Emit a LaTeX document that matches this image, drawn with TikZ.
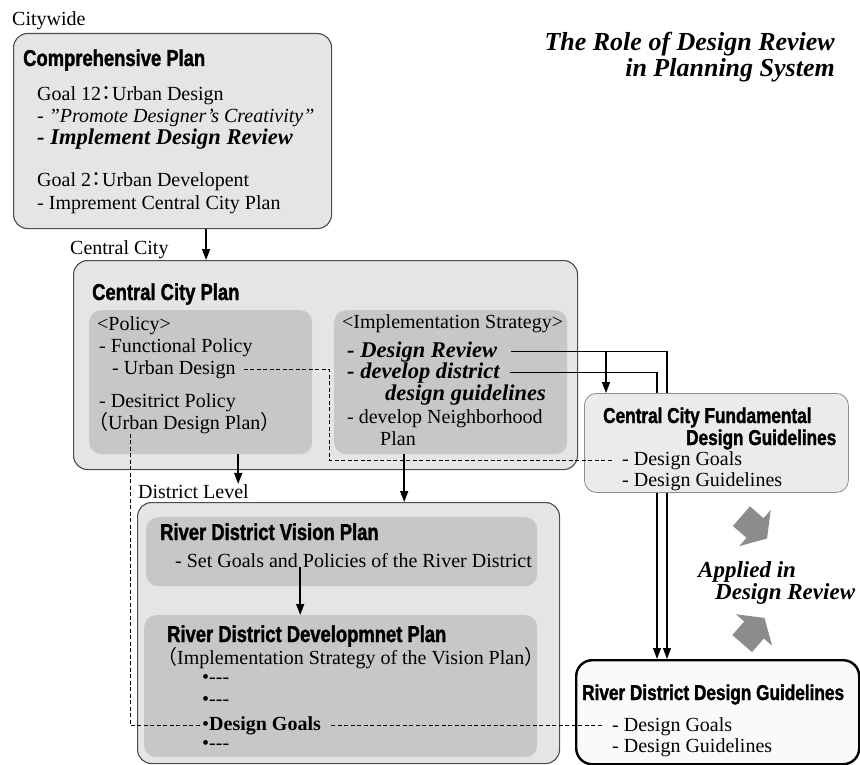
\documentclass[tikz,border=0pt]{standalone}
\usepackage{fontspec}
\setmainfont{Liberation Serif}
\newfontfamily\headfont[FakeStretch=0.8,FakeBold=1.5]{Liberation Sans}
\newfontfamily\cjk{Noto Sans CJK JP}
\newcommand\fwcolon{\kern-4.5pt{\cjk ：}\kern-4.5pt}
\usetikzlibrary{arrows.meta}
\pgfdeclarelayer{front}
\pgfsetlayers{main,front}

\begin{document}
\begin{tikzpicture}
[x=1pt,y=-1pt,
  outerBox/.style={draw=black!70,fill=black!10,line width=1.1pt,rounded corners=14pt,anchor=north west,inner sep=0pt},
  innerBox/.style={fill=black!22,rounded corners=12pt,anchor=north west,inner sep=0pt},
  lightBox/.style={draw=black!45,fill=black!8,line width=0.8pt,rounded corners=12pt,anchor=north west,inner sep=0pt},
  riverBox/.style={draw=black,fill=black!2,line width=2.4pt,rounded corners=16pt,anchor=north west,inner sep=0pt},
  headText/.style={font=\headfont\bfseries\fontsize{23}{26}\selectfont,anchor=base west,inner sep=0pt},
  smallHead/.style={headText,font=\headfont\bfseries\fontsize{21.5}{24}\selectfont},
  bodyText/.style={font=\fontsize{20}{24}\selectfont,anchor=base west,inner sep=0pt},
  emphText/.style={bodyText,font=\bfseries\itshape\fontsize{22.5}{26}\selectfont},
  titleText/.style={font=\bfseries\itshape\fontsize{26}{30}\selectfont,inner sep=0pt},
  noteText/.style={font=\bfseries\itshape\fontsize{23}{26}\selectfont,anchor=base west,inner sep=0pt},
  arrowLine/.style={-{Triangle[length=11pt,width=8pt]},line width=1.5pt},
  dashLine/.style={dash pattern=on 4pt off 2.5pt,line width=1pt},
  grayArrow/.style={fill=black!45}]
\useasboundingbox (0,0) rectangle (860,765);

%% boxes
\foreach \boxname/\x/\y/\w/\h/\sty in {
  compBox/13/33/318/195/outerBox,
  ccBox/73/260/504/209/outerBox,
  distBox/137/502/422/261/outerBox,
  policyBox/89/310/223/144/innerBox,
  implBox/334/310/233/144/innerBox,
  visionBox/146/517/391/69/innerBox,
  devBox/144/615/393/142/innerBox,
  rgBox/575/659/283/104/riverBox}
{
  \node[\sty,minimum width=\w,minimum height=\h] (\boxname) at (\x,\y) {};
}

%% headings
\foreach \nodename/\x/\y/\txt in {
  compHead/23/66/Comprehensive Plan,
  ccHead/92/300/Central City Plan,
  visionHead/160/540/River District Vision Plan,
  devHead/167/642/River District Developmnet Plan}
{
  \node[headText] (\nodename) at (\x,\y) {\txt};
}
\node[smallHead] (rgHead) at (582,700) {River District Design Guidelines};

%% text lines
\foreach \nodename/\x/\y/\txt in {
  citywide/12/26/Citywide,
  centralCity/70/254/Central City,
  districtLevel/138/498/District Level,
  goalDesign/37/101/{Goal 12\fwcolon Urban Design},
  promote/37/123/{\itshape - "Promote Designer's Creativity"},
  goalDevelop/37/187/{Goal 2\fwcolon Urban Developent},
  impCentral/37/209/{- Imprement Central City Plan},
  policyTag/97/330/{<Policy>},
  funcPolicy/99/352/{- Functional Policy},
  urbanDesign/112/374/{- Urban Design},
  distPolicy/99/407/{- Desitrict Policy},
  designPlan/88/429/{{\cjk （}Urban Design Plan{\cjk ）}},
  implTag/342/328/{<Implementation Strategy>},
  devNbhd/347/423/{- develop Neighborhood},
  nbhdPlan/380/445/Plan,
  setGoals/175/567/{- Set Goals and Policies of the River District},
  visionStrategy/157/664/{{\cjk （}Implementation Strategy of the Vision Plan{\cjk ）}},
  itemA/202/683/{•-{}-{}-},
  itemB/202/705/{•-{}-{}-},
  itemGoals/202/730/{•\textbf{Design Goals}},
  itemC/202/749/{•-{}-{}-},
  rgGoals/612/731/{- Design Goals},
  rgGuides/612/752/{- Design Guidelines}}
{
  \node[bodyText] (\nodename) at (\x,\y) {\txt};
}
\foreach \nodename/\x/\y/\txt in {
  implReview/37/145/{- Implement Design Review},
  designReview/347/357/{- Design Review},
  devDistrict/347/378/{- develop district},
  devGuides/385/400/{design guidelines}}
{
  \node[emphText] (\nodename) at (\x,\y) {\txt};
}

%% title and side note
\node[titleText,anchor=base east] (titleA) at (835,51) {The Role of Design Review};
\node[titleText,anchor=base east] (titleB) at (835,77) {in Planning System};
\node[noteText] (appliedA) at (698,577) {Applied in};
\node[noteText] (appliedB) at (715,599) {Design Review};

%% fundamental guidelines sit above the lines
\begin{pgfonlayer}{front}
\node[lightBox,minimum width=264,minimum height=99] (fundBox) at (584,393) {};
\node[smallHead] (fundHeadA) at (603,423) {Central City Fundamental};
\node[smallHead] (fundHeadB) at (686,445) {Design Guidelines};
\node[bodyText] (fundGoals) at (622,465) {- Design Goals};
\node[bodyText] (fundGuides) at (622,486) {- Design Guidelines};
\end{pgfonlayer}

%% solid connectors
\coordinate (compDrop) at ([xshift=33.5pt]compBox.south);
\coordinate (policyDrop) at ([xshift=37.5pt]policyBox.south);
\coordinate (implDrop) at ([xshift=-46.5pt]implBox.south);
\coordinate (visionDrop) at ([xshift=-41.5pt]visionBox.south);
\coordinate (reviewLane) at (667,355);
\coordinate (districtLane) at (657,373);
\coordinate (fundDrop) at ([xshift=22pt]fundBox.north west);
\draw[arrowLine] (compDrop) -- (compDrop |- ccBox.north);
\draw[arrowLine] (policyDrop) -- (policyDrop |- districtLevel.north);
\draw[arrowLine] (implDrop) -- (implDrop |- distBox.north);
\draw[arrowLine] (visionDrop |- setGoals.south) -- (visionDrop |- devBox.north);
\draw[arrowLine] ([xshift=14pt]designReview.east) -| (reviewLane |- rgBox.north);
\draw[arrowLine] ([xshift=10pt]devDistrict.east) -| (districtLane |- rgBox.north);
\draw[arrowLine] (designReview.east -| fundDrop) -- (fundDrop);

%% dashed links
\begin{pgfonlayer}{front}
\coordinate (dashTurn) at (329,460);
\coordinate (fundGoalsIn) at ([xshift=-8pt]fundGoals.west);
\coordinate (rgGoalsIn) at ([xshift=-9pt]rgGoals.west);
\draw[dashLine] ([xshift=8pt]urbanDesign.east) -| (dashTurn) -- (dashTurn -| fundGoalsIn);
\draw[dashLine] ([xshift=42pt]designPlan.south west) |- (itemGoals.west);
\draw[dashLine] ([xshift=10pt]itemGoals.east) -- (itemGoals.east -| rgGoalsIn);
\end{pgfonlayer}

%% gray block arrows
\foreach \ax/\ay/\ang in {755/528/-41, 754/630/49}
{
  \fill[grayArrow,shift={(\ax,\ay)},rotate=\ang] (-18,-13) -- (0,-13) -- (0,-24)
    -- (16,0) -- (0,24) -- (0,13) -- (-18,13) -- cycle;
}
\end{tikzpicture}
\end{document}
